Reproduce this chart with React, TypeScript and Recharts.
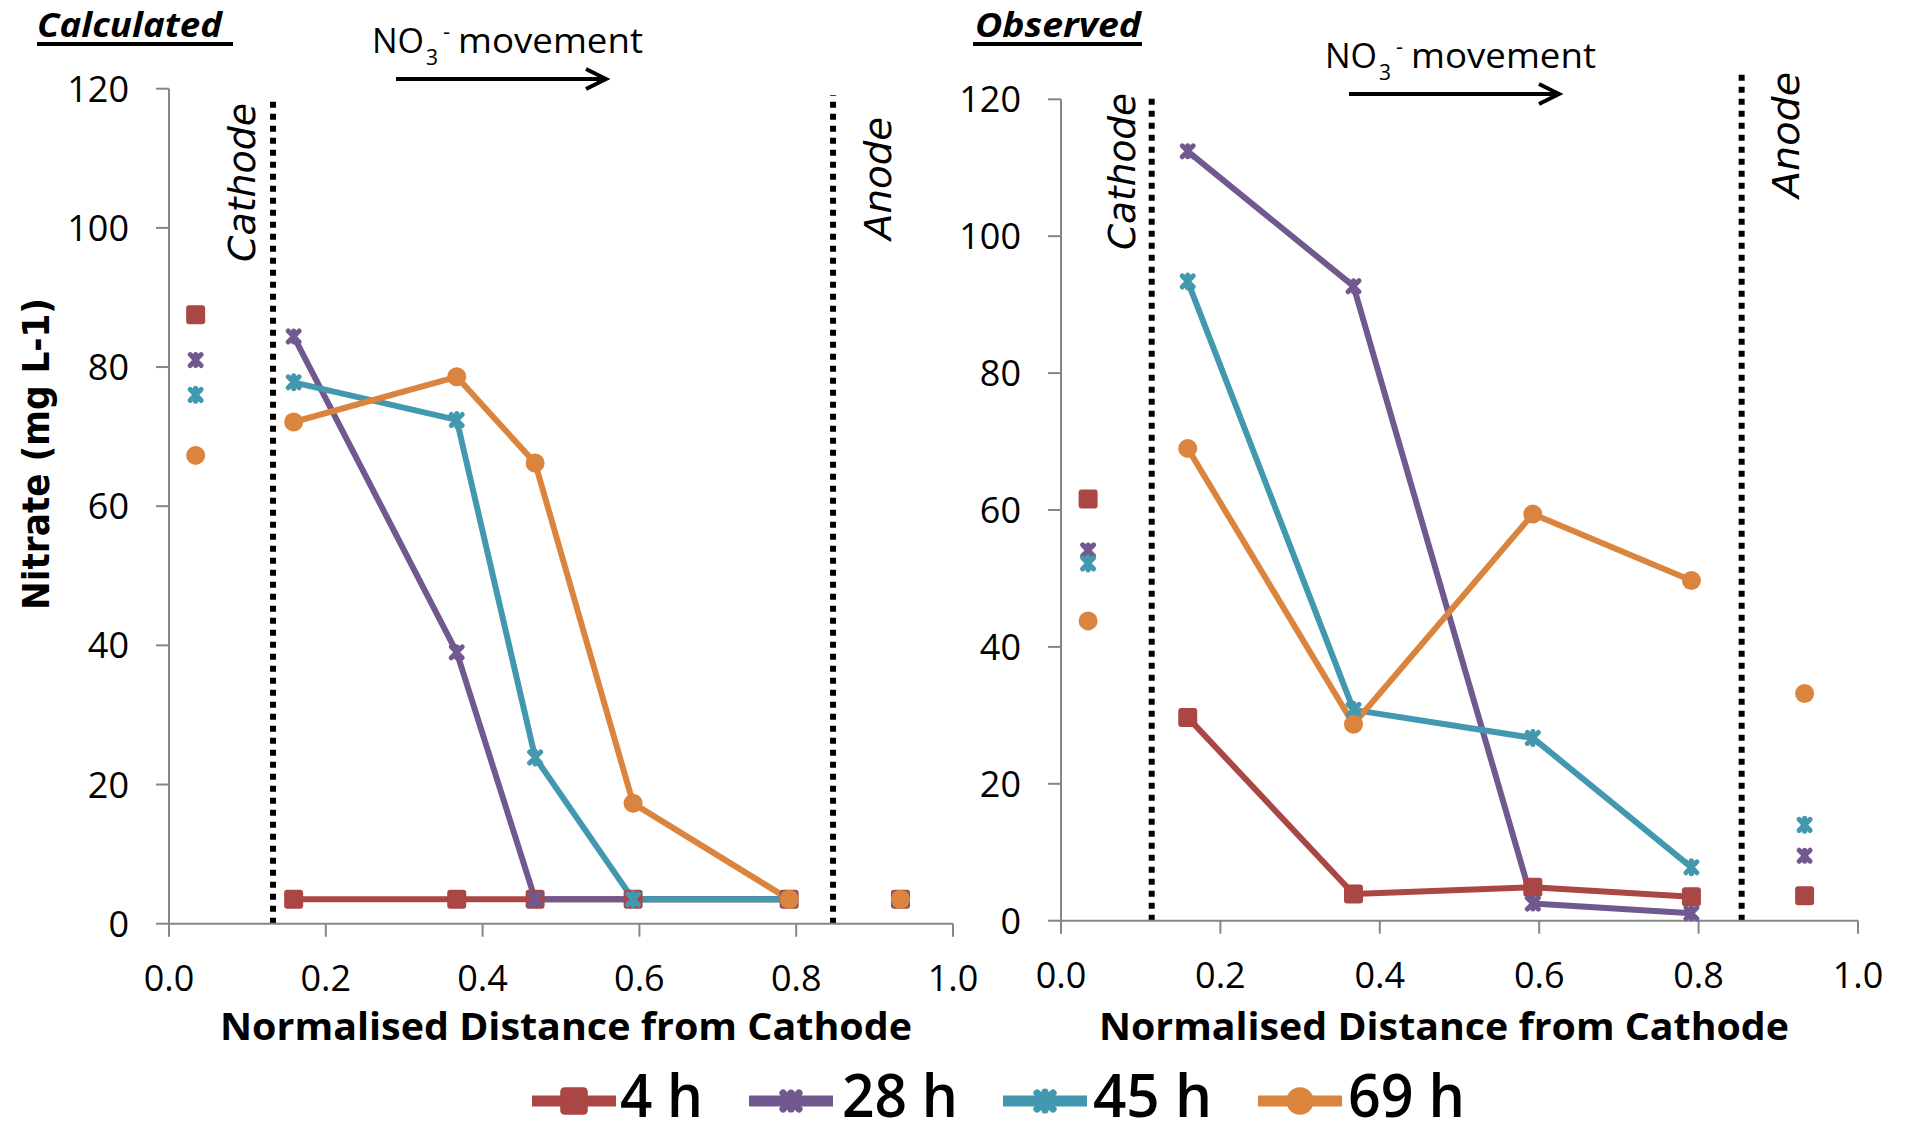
import React from 'react';
import { ComposedChart, Line, XAxis, YAxis, ReferenceLine } from 'recharts';

// ---------- data ----------
const SERIES_NAMES = ['4 h', '28 h', '45 h', '69 h'];
const SERIES_COLORS = ['#AA4643', '#71588F', '#4198AF', '#DB843D'];
const SERIES_MARKERS = ['square', 'x', 'star', 'circle'];

const X_CATHODE_SIDE = 0.034;
const X_ANODE_SIDE = 0.933;

const CALC_X = [0.159, 0.367, 0.467, 0.592, 0.791];
const CALC_4H = [3.5, 3.5, 3.5, 3.5, 3.5];
const CALC_28H = [84.4, 39.0, 3.5, 3.5, 3.5];
const CALC_45H = [77.8, 72.4, 23.9, 3.5, 3.5];
const CALC_69H = [72.1, 78.6, 66.2, 17.3, 3.5];
const CALC_CATHODE_END = [87.5, 81.0, 76.0, 67.3];
const CALC_ANODE_END = [3.5, 3.5, 3.5, 3.5];

const OBS_X = [0.159, 0.367, 0.592, 0.791];
const OBS_4H = [29.7, 3.9, 4.9, 3.5];
const OBS_28H = [112.4, 92.7, 2.5, 1.1];
const OBS_45H = [93.4, 30.8, 26.7, 7.8];
const OBS_69H = [69.0, 28.7, 59.4, 49.7];
const OBS_CATHODE_END = [61.6, 54.1, 52.2, 43.8];
const OBS_ANODE_END = [3.65, 9.5, 14.0, 33.2];

const X_TICKS = [0, 0.2, 0.4, 0.6, 0.8, 1.0];
const Y_TICKS = [0, 20, 40, 60, 80, 100, 120];

// electrode boundary positions (x) and the height their dotted lines reach (y)
const CALC_CATHODE_LINE = { x: 0.1327, top: 118.8 };
const CALC_ANODE_LINE = { x: 0.847, top: 119.1 };
const OBS_CATHODE_LINE = { x: 0.1138, top: 120.6 };
const OBS_ANODE_LINE = { x: 0.854, top: 123.6 };

// ---------- helpers ----------
const TICK_FONT = "'Open Sans', 'Liberation Sans', sans-serif";
const AXIS_GREY = '#868686';

function Marker({ kind, cx, cy, color, s = 1 }: any) {
  if (cx == null || cy == null || isNaN(cx) || isNaN(cy)) return null;
  if (kind === 'square') {
    return <rect x={cx - 9.5 * s} y={cy - 9.5 * s} width={19 * s} height={19 * s} rx={3 * s} fill={color} />;
  }
  if (kind === 'circle') {
    return <circle cx={cx} cy={cy} r={9.5 * s} fill={color} />;
  }
  const h = 5.5 * s;
  const d =
    kind === 'star'
      ? `M${cx - h},${cy - h}L${cx + h},${cy + h}M${cx - h},${cy + h}L${cx + h},${cy - h}M${cx},${cy - h - 1}L${cx},${cy + h + 1}`
      : `M${cx - h},${cy - h}L${cx + h},${cy + h}M${cx - h},${cy + h}L${cx + h},${cy - h}M${cx},${cy - h}L${cx},${cy + h}`;
  return <path d={d} stroke={color} strokeWidth={5 * s} strokeLinecap="round" fill="none" />;
}

const makeDot = (kind: string, color: string) => (p: any) =>
  <Marker key={`d-${p.index}-${p.cx}`} kind={kind} cx={p.cx} cy={p.cy} color={color} />;

const YTick = (p: any) => (
  <text x={p.x} y={p.y} dy={13} textAnchor="end" fontFamily={TICK_FONT} fontSize={36} fill="#000">
    {p.payload.value}
  </text>
);
const XTick = (p: any) => (
  <text x={p.x} y={p.y} dy={26} textAnchor="middle" fontFamily={TICK_FONT} fontSize={36} fill="#000">
    {Number(p.payload.value).toFixed(1)}
  </text>
);

const toPoints = (xs: number[], ys: number[]) => xs.map((x, i) => ({ x, y: ys[i] }));

function Panel({ left, width, margin, yAxisWidth, xs, lines, cathodeEnd, anodeEnd, cathodeLine, anodeLine }: any) {
  return (
    <div style={{ position: 'absolute', left, top: 0, width, height: 1124 }}>
      <ComposedChart width={width} height={1124} margin={margin} style={{ overflow: 'visible' }}>
        <XAxis
          type="number"
          dataKey="x"
          domain={[0, 1]}
          ticks={X_TICKS}
          height={100}
          tickSize={13}
          tickMargin={28}
          axisLine={{ stroke: AXIS_GREY, strokeWidth: 2 }}
          tickLine={{ stroke: AXIS_GREY, strokeWidth: 2 }}
          tick={<XTick />}
          allowDuplicatedCategory={false}
        />
        <YAxis
          type="number"
          domain={[0, 120]}
          ticks={Y_TICKS}
          width={yAxisWidth}
          tickSize={13}
          tickMargin={27}
          axisLine={{ stroke: AXIS_GREY, strokeWidth: 2 }}
          tickLine={{ stroke: AXIS_GREY, strokeWidth: 2 }}
          tick={<YTick />}
        />
        {[cathodeLine, anodeLine].map((l: any, i: number) => (
          <ReferenceLine
            key={`ref-${i}`}
            segment={[{ x: l.x, y: 0 }, { x: l.x, y: l.top }]}
            ifOverflow="visible"
            stroke="#000"
            strokeWidth={6}
            strokeDasharray="6 6"
          />
        ))}
        {lines.map((ys: number[], i: number) => (
          <Line
            key={`line-${i}`}
            data={toPoints(xs, ys)}
            dataKey="y"
            name={SERIES_NAMES[i]}
            stroke={SERIES_COLORS[i]}
            strokeWidth={6}
            strokeLinejoin="round"
            dot={makeDot(SERIES_MARKERS[i], SERIES_COLORS[i])}
            activeDot={false}
            isAnimationActive={false}
          />
        ))}
        {SERIES_NAMES.map((n, i) => (
          <Line
            key={`ends-${i}`}
            data={[{ x: X_CATHODE_SIDE, y: cathodeEnd[i] }]}
            dataKey="y"
            name={`${n} cathode`}
            stroke="none"
            dot={makeDot(SERIES_MARKERS[i], SERIES_COLORS[i])}
            activeDot={false}
            legendType="none"
            isAnimationActive={false}
          />
        ))}
        {SERIES_NAMES.map((n, i) => (
          <Line
            key={`enda-${i}`}
            data={[{ x: X_ANODE_SIDE, y: anodeEnd[i] }]}
            dataKey="y"
            name={`${n} anode`}
            stroke="none"
            dot={makeDot(SERIES_MARKERS[i], SERIES_COLORS[i])}
            activeDot={false}
            legendType="none"
            isAnimationActive={false}
          />
        ))}
      </ComposedChart>
    </div>
  );
}

function NO3Label({ dx, dy }: any) {
  const f = TICK_FONT;
  return (
    <g transform={`translate(${dx},${dy})`}>
      <text x={372} y={53} fontFamily={f} fontSize={35} fill="#000" textLength={52} lengthAdjust="spacingAndGlyphs">NO</text>
      <text x={426} y={65} fontFamily={f} fontSize={21} fill="#000">3</text>
      <text x={443} y={39} fontFamily={f} fontSize={22} fill="#000">-</text>
      <text x={458} y={53} fontFamily={f} fontSize={35} fill="#000" textLength={185} lengthAdjust="spacingAndGlyphs">movement</text>
      <line x1={396} y1={79} x2={605} y2={79} stroke="#000" strokeWidth={4} />
      <polyline points="586,69 606,79 586,89" fill="none" stroke="#000" strokeWidth={4} />
    </g>
  );
}

const LEGEND_POS = [
  { x0: 532, tx: 620, tw: 83 },
  { x0: 749, tx: 842, tw: 116 },
  { x0: 1003, tx: 1093, tw: 119 },
  { x0: 1258, tx: 1348, tw: 117 },
];

function Overlay() {
  const rot = "'DejaVu Sans', 'Verdana', sans-serif";
  return (
    <svg width={1905} height={1124} style={{ position: 'absolute', left: 0, top: 0, pointerEvents: 'none' }}>
      {/* panel titles */}
      <text x={37} y={37} fontFamily={TICK_FONT} fontWeight={700} fontStyle="italic" fontSize={34} textLength={185} lengthAdjust="spacingAndGlyphs">Calculated</text>
      <rect x={37} y={42} width={196} height={4} fill="#000" />
      <text x={975} y={37} fontFamily={TICK_FONT} fontWeight={700} fontStyle="italic" fontSize={34} textLength={166} lengthAdjust="spacingAndGlyphs">Observed</text>
      <rect x={973} y={42} width={169} height={4} fill="#000" />

      <NO3Label dx={0} dy={0} />
      <NO3Label dx={953} dy={15} />

      {/* electrode labels */}
      <text transform="translate(255,182.5) rotate(-90)" textAnchor="middle" fontFamily={rot} fontStyle="italic" fontSize={38} textLength={159} lengthAdjust="spacingAndGlyphs">Cathode</text>
      <text transform="translate(891,178.5) rotate(-90)" textAnchor="middle" fontFamily={rot} fontStyle="italic" fontSize={38} textLength={123} lengthAdjust="spacingAndGlyphs">Anode</text>
      <text transform="translate(1135,171.5) rotate(-90)" textAnchor="middle" fontFamily={rot} fontStyle="italic" fontSize={38} textLength={157} lengthAdjust="spacingAndGlyphs">Cathode</text>
      <text transform="translate(1799,135) rotate(-90)" textAnchor="middle" fontFamily={rot} fontStyle="italic" fontSize={38} textLength={126} lengthAdjust="spacingAndGlyphs">Anode</text>

      {/* axis titles */}
      <text transform="translate(49,454) rotate(-90)" textAnchor="middle" fontFamily={rot} fontWeight={700} fontSize={38} textLength={312} lengthAdjust="spacingAndGlyphs">Nitrate (mg L-1)</text>
      <text x={220} y={1040} fontFamily={TICK_FONT} fontWeight={700} fontSize={38} textLength={692} lengthAdjust="spacingAndGlyphs">Normalised Distance from Cathode</text>
      <text x={1099} y={1040} fontFamily={TICK_FONT} fontWeight={700} fontSize={38} textLength={690} lengthAdjust="spacingAndGlyphs">Normalised Distance from Cathode</text>

      {/* legend */}
      {SERIES_NAMES.map((n, i) => {
        const p = LEGEND_POS[i];
        return (
          <g key={n}>
            <line x1={p.x0} y1={1101} x2={p.x0 + 84} y2={1101} stroke={SERIES_COLORS[i]} strokeWidth={11} />
            <Marker kind={SERIES_MARKERS[i]} cx={p.x0 + 42} cy={1101} color={SERIES_COLORS[i]} s={1.45} />
            <text x={p.tx} y={1117} fontFamily={TICK_FONT} fontWeight={600} fontSize={60} fill="#000" textLength={p.tw} lengthAdjust="spacingAndGlyphs">{n}</text>
          </g>
        );
      })}
    </svg>
  );
}

export default function App() {
  return (
    <div style={{ position: 'absolute', left: 0, top: 0, width: 1905, height: 1124, background: '#fff', overflow: 'hidden' }}>
      <Panel
        left={0}
        width={1000}
        margin={{ top: 88.7, right: 47, bottom: 100.3, left: 0 }}
        yAxisWidth={169}
        xs={CALC_X}
        lines={[CALC_4H, CALC_28H, CALC_45H, CALC_69H]}
        cathodeEnd={CALC_CATHODE_END}
        anodeEnd={CALC_ANODE_END}
        cathodeLine={CALC_CATHODE_LINE}
        anodeLine={CALC_ANODE_LINE}
      />
      <Panel
        left={960}
        width={945}
        margin={{ top: 99.3, right: 47, bottom: 103.3, left: 0 }}
        yAxisWidth={101}
        xs={OBS_X}
        lines={[OBS_4H, OBS_28H, OBS_45H, OBS_69H]}
        cathodeEnd={OBS_CATHODE_END}
        anodeEnd={OBS_ANODE_END}
        cathodeLine={OBS_CATHODE_LINE}
        anodeLine={OBS_ANODE_LINE}
      />
      <Overlay />
    </div>
  );
}
